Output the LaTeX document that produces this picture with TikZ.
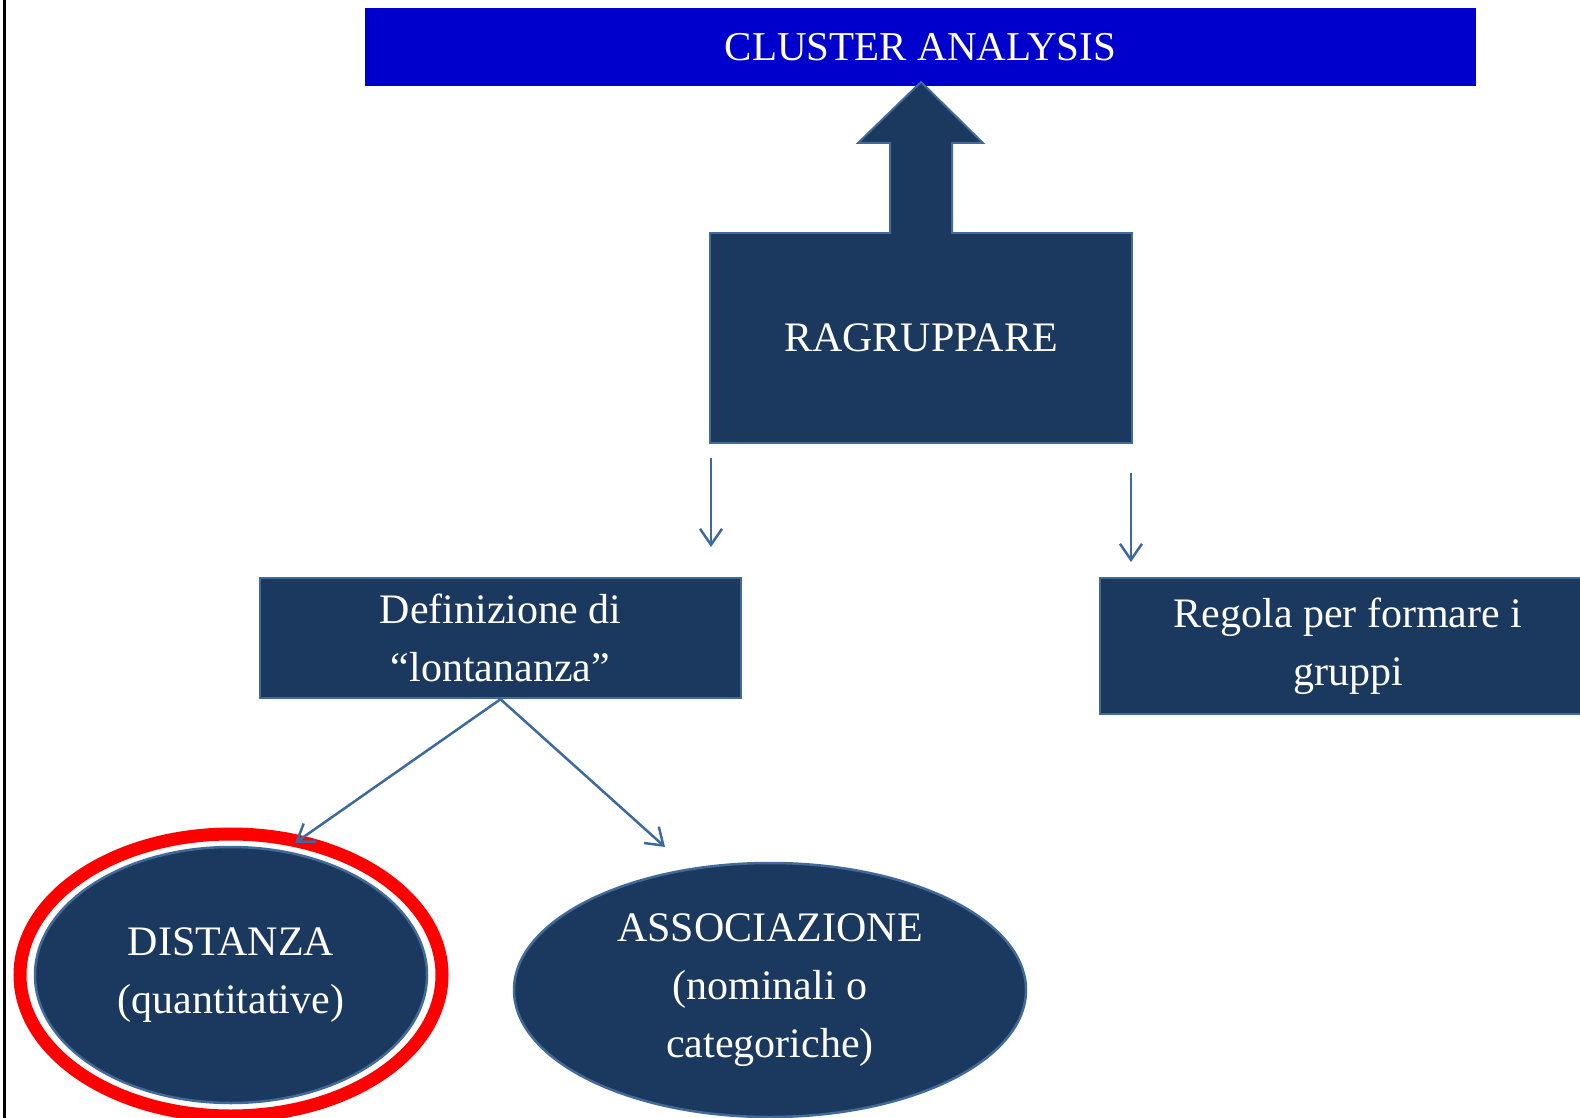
\documentclass[tikz,border=0pt]{standalone}
\usepackage{fontspec}
\setmainfont{Liberation Serif}
\usetikzlibrary{arrows.meta,shapes.geometric}
\definecolor{navy}{HTML}{1B385E}
\definecolor{edgeblue}{HTML}{41699A}
\definecolor{linkblue}{HTML}{3D6A9E}
\definecolor{banner}{HTML}{0000CC}
\tikzset{
  lbl/.style={text=white, font=\fontsize{42}{58}\selectfont, align=center},
  darkbox/.style={lbl, rectangle, fill=navy, draw=edgeblue, line width=2.5pt, inner sep=0pt},
  darkoval/.style={lbl, ellipse, fill=navy, draw=edgeblue, line width=2.5pt, inner sep=0pt},
  link/.style={draw=linkblue, line width=2.5pt, -{Straight Barb[length=16pt,width=22pt,line width=2.5pt]}},
}
\begin{document}
\begin{tikzpicture}[x=1pt,y=-1pt]
\useasboundingbox[fill=white] (0,0) rectangle (1580,1118);

% page edge on the left
\draw[line width=3pt] (4,0) -- (4,1118);

% title banner
\node[lbl, font=\fontsize{41}{57}\selectfont, fill=banner, minimum width=1111pt, minimum height=78pt, inner sep=0pt] (title) at (920.5,47) {CLUSTER ANALYSIS};

% central box
\node[darkbox, minimum width=422pt, minimum height=210pt] (rag) at (921,338) {RAGRUPPARE};

% block arrow pointing up to the banner
\draw[fill=navy, draw=edgeblue, line width=2pt, line join=miter]
  (890,234) -- (890,143) -- (858,143) -- (921,82) -- (983,143) -- (952,143) -- (952,234);

% second-level boxes
\node[darkbox, minimum width=481pt, minimum height=120pt] (def) at (500.5,638) {Definizione di\\“lontananza”};
\node[darkbox, minimum width=496pt, minimum height=136pt] (rule) at (1348,646) {Regola per formare i\\gruppi};

% leaf ellipses
\node[darkoval, minimum width=392pt, minimum height=256pt] (dist) at (231,975) {DISTANZA\\(quantitative)};
\draw[red, line width=13pt] (dist.center) ellipse [x radius=211, y radius=141];
\node[darkoval, minimum width=512pt, minimum height=254pt] (assoc) at (770,990) {ASSOCIAZIONE\\(nominali o\\categoriche)};

% connectors
\coordinate (a1s) at (711,458);
\coordinate (a1e) at (711,547);
\coordinate (a2s) at (1131,473);
\coordinate (a2e) at (1131,562);
\coordinate (dtip) at (295,843);
\coordinate (atip) at (665,847);
\draw[link] (a1s) -- (a1e);
\draw[link] (a2s) -- (a2e);
\draw[link] (def.south) -- (dtip);
\draw[link] (def.south) -- (atip);
\end{tikzpicture}
\end{document}
